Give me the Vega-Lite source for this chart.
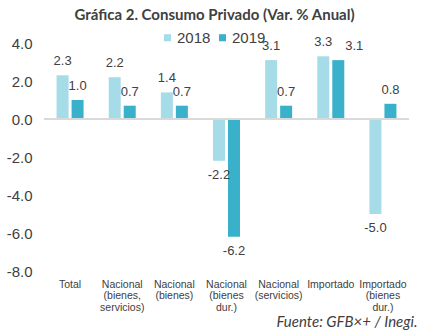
{
  "$schema": "https://vega.github.io/schema/vega-lite/v6.json",
  "autosize": "none",
  "width": 365,
  "height": 228,
  "padding": {"left": 44, "top": 43, "right": 18, "bottom": 63},
  "background": "white",
  "title": {
    "text": "Gráfica 2. Consumo Privado (Var. % Anual)",
    "font": "Lato",
    "fontSize": 15,
    "fontWeight": "bold",
    "color": "#404040",
    "anchor": "middle",
    "frame": "group",
    "dx": -12,
    "offset": 7
  },
  "data": {
    "values": [
      {"categoria": "Total", "anio": "2018", "valor": 2.3},
      {"categoria": "Total", "anio": "2019", "valor": 1.0},
      {"categoria": "Nacional (bienes, servicios)", "anio": "2018", "valor": 2.2},
      {"categoria": "Nacional (bienes, servicios)", "anio": "2019", "valor": 0.7},
      {"categoria": "Nacional (bienes)", "anio": "2018", "valor": 1.4},
      {"categoria": "Nacional (bienes)", "anio": "2019", "valor": 0.7},
      {"categoria": "Nacional (bienes dur.)", "anio": "2018", "valor": -2.2},
      {"categoria": "Nacional (bienes dur.)", "anio": "2019", "valor": -6.2},
      {"categoria": "Nacional (servicios)", "anio": "2018", "valor": 3.1},
      {"categoria": "Nacional (servicios)", "anio": "2019", "valor": 0.7},
      {"categoria": "Importado", "anio": "2018", "valor": 3.3},
      {"categoria": "Importado", "anio": "2019", "valor": 3.1},
      {"categoria": "Importado (bienes dur.)", "anio": "2018", "valor": -5.0},
      {"categoria": "Importado (bienes dur.)", "anio": "2019", "valor": 0.8}
    ]
  },
  "encoding": {
    "x": {
      "field": "categoria",
      "type": "nominal",
      "sort": null,
      "scale": {"paddingInner": 0.482, "paddingOuter": 0.241},
      "axis": {
        "title": "Fuente: GFB×+ / Inegi.",
        "titleFont": "Lato",
        "titleFontSize": 15,
        "titleFontStyle": "italic",
        "titleFontWeight": "normal",
        "titleColor": "#404040",
        "titleAnchor": "end",
        "titleAlign": "right",
        "titleBaseline": "alphabetic",
        "titleX": 373,
        "titleY": 55,
        "labelExpr": "split(datum.label, ' ')",
        "labelAngle": 0,
        "labelFont": "Liberation Sans",
        "labelFontSize": 10.5,
        "labelColor": "#404040",
        "labelLineHeight": 11.5,
        "labelBaseline": "top",
        "labelPadding": 8,
        "domain": false,
        "ticks": false,
        "grid": false
      }
    },
    "xOffset": {
      "field": "anio",
      "type": "nominal",
      "scale": {"paddingInner": 0.2, "paddingOuter": 0}
    },
    "y": {
      "field": "valor",
      "type": "quantitative",
      "scale": {"domain": [-8, 4], "nice": false},
      "axis": {
        "title": null,
        "values": [-8, -6, -4, -2, 0, 2, 4],
        "labelExpr": "replace(format(datum.value, '.1f'), '−', '-')",
        "labelFont": "Liberation Sans",
        "labelFontSize": 15,
        "labelColor": "#404040",
        "labelPadding": 12,
        "domain": false,
        "ticks": false,
        "grid": false
      }
    }
  },
  "layer": [
    {
      "mark": {"type": "bar"},
      "encoding": {
        "color": {
          "field": "anio",
          "type": "nominal",
          "scale": {"domain": ["2018", "2019"], "range": ["#A6DBE8", "#3AB1CA"]},
          "legend": {
            "title": null,
            "orient": "none",
            "direction": "horizontal",
            "legendX": 116,
            "legendY": -13,
            "padding": 0,
            "symbolType": "square",
            "symbolSize": 50,
            "symbolStrokeWidth": 0,
            "labelFont": "Liberation Sans",
            "labelFontSize": 15,
            "labelColor": "#404040",
            "labelOffset": 2,
            "columnPadding": 4
          }
        }
      }
    },
    {
      "mark": {"type": "rule", "color": "#D9D9D9", "strokeWidth": 1.5},
      "encoding": {"y": {"datum": 0}, "x": null, "xOffset": null}
    },
    {
      "transform": [{"filter": "datum.valor >= 0 && !(datum.categoria == 'Importado' && datum.anio == '2019')"}],
      "mark": {"type": "text", "baseline": "bottom", "dy": -7, "font": "Liberation Sans", "fontSize": 13, "color": "#404040"},
      "encoding": {
        "text": {"field": "valor", "type": "quantitative", "format": ".1f"}
      }
    },
    {
      "transform": [{"filter": "datum.categoria == 'Importado' && datum.anio == '2019'"}],
      "mark": {"type": "text", "baseline": "bottom", "dy": -7, "dx": 16, "font": "Liberation Sans", "fontSize": 13, "color": "#404040"},
      "encoding": {
        "text": {"field": "valor", "type": "quantitative", "format": ".1f"}
      }
    },
    {
      "transform": [{"filter": "datum.valor < 0"}],
      "mark": {"type": "text", "baseline": "top", "dy": 8, "font": "Liberation Sans", "fontSize": 13, "color": "#404040"},
      "encoding": {
        "text": {"field": "valor", "type": "quantitative", "format": ".1f"}
      }
    }
  ],
  "config": {
    "view": {"stroke": null},
    "locale": {
      "number": {"decimal": ".", "thousands": ",", "grouping": [3], "currency": ["$", ""], "minus": "-"}
    }
  }
}
